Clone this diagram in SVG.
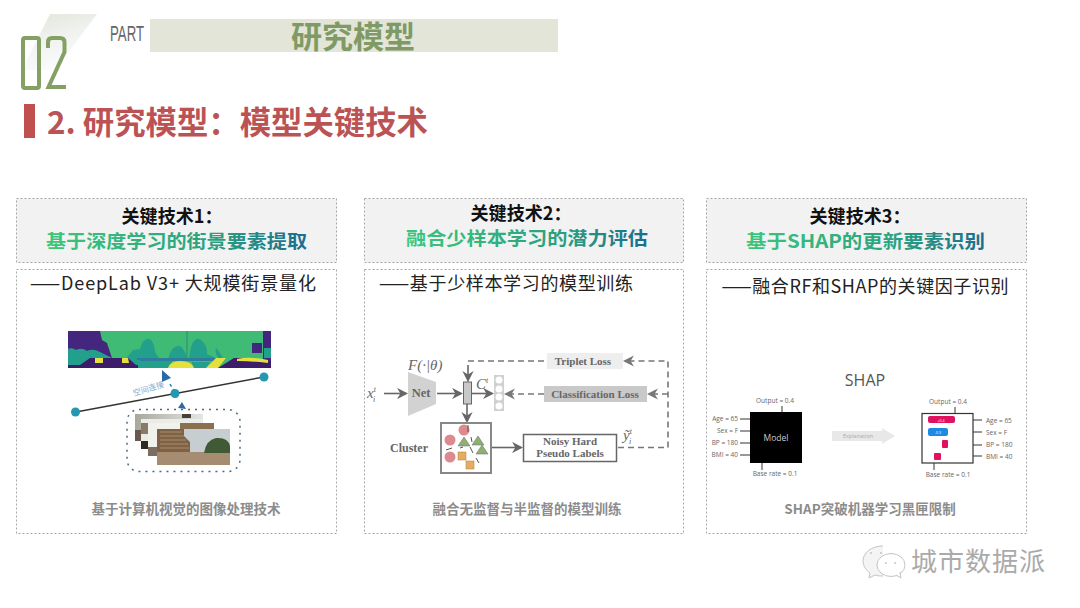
<svg xmlns="http://www.w3.org/2000/svg" width="1080" height="608" viewBox="0 0 1080 608">
<style>
text{font-family:"Noto Sans CJK SC","Liberation Sans",sans-serif}
.hd{fill:#f2f2f2;stroke:#a6a6a6;stroke-width:1;stroke-dasharray:2 2}
.bd{fill:#fff;stroke:#a6a6a6;stroke-width:1;stroke-dasharray:2 2}
.t1{font-size:18.500px;font-weight:700;fill:#111;text-anchor:middle}
.t2{font-size:18.500px;font-weight:700;text-anchor:middle}
.sub{font-size:18px;fill:#222;text-anchor:middle}
.cap{font-size:13.500px;font-weight:700;fill:#8c8c8c;text-anchor:middle}
.ln{fill:none;stroke:#666;stroke-width:1.600}
.ds{fill:none;stroke:#777;stroke-width:1.600;stroke-dasharray:6 4}
.tx{font-family:"Liberation Serif",serif;font-weight:700;font-size:11px;fill:#666;text-anchor:middle}
.it{font-family:"Liberation Serif",serif;font-style:italic;font-size:14px;fill:#666}
.sh{font-size:6.500px;fill:#666;font-family:"Open Sans","Liberation Sans",sans-serif}
.bl{stroke:#333;stroke-width:1}
.te{fill:#22a08c}
.pu{fill:#44287f}
.dp{fill:#3c1a6b}
.ye{fill:#e4e03c}
.dot{fill:#2498b0}
.tri{fill:#2a6aa8}
</style>
<defs>
<linearGradient id="g1" x1="0" x2="1" y1="0" y2="0"><stop offset="0" stop-color="#3cc67c"/><stop offset=".65" stop-color="#2a9f80"/><stop offset="1" stop-color="#1c6c90"/></linearGradient>
<linearGradient id="fade" x1="0" x2="0.4" y1="0" y2="1"><stop offset="0" stop-color="#dfe3d6"/><stop offset="1" stop-color="#eef3f3" stop-opacity=".3"/></linearGradient>
<linearGradient id="sky" x1="0" x2="1" y1="0" y2="0"><stop offset="0" stop-color="#a8a89c"/><stop offset="1" stop-color="#e4e6e4"/></linearGradient>
<filter id="soft" x="-5%" y="-5%" width="110%" height="110%"><feGaussianBlur stdDeviation=".5"/></filter>
<marker id="a" viewBox="0 0 10 10" refX="8" refY="5" markerWidth="7" markerHeight="7" orient="auto"><path d="M0 0L10 5L0 10L3 5Z" fill="#666"/></marker>
<marker id="b" viewBox="0 0 10 10" refX="8" refY="5" markerWidth="7" markerHeight="7" orient="auto"><path d="M0 0L10 5L0 10L3 5Z" fill="#777"/></marker>
</defs>

<g id="banner">
<path d="M50 14H97L55 70H22Z" fill="url(#fade)"/>
<rect x="23" y="38" width="16" height="50" rx="2" fill="none" stroke="#85a063" stroke-width="4"/>
<path d="M48 48V42Q48 38 52 38H60Q64.500 38 64.500 42V52L48.500 87H66" fill="none" stroke="#85a063" stroke-width="4"/>
<text x="110" y="41" font-size="22" fill="#666" textLength="34" lengthAdjust="spacingAndGlyphs" style="font-family:'Liberation Sans',sans-serif">PART</text>
<rect x="150" y="19" width="408" height="33" fill="#e2e5d8"/>
<text x="353" y="48" font-size="31" font-weight="700" fill="#7f9a64" text-anchor="middle">研究模型</text>
</g>

<g id="title">
<rect x="24" y="104" width="11" height="34" fill="#c0504f"/>
<text x="47" y="134" font-size="31.500" font-weight="700" fill="#bb5355" textLength="381" lengthAdjust="spacingAndGlyphs">2. 研究模型：模型关键技术</text>
</g>

<g id="panel1">
<rect class="hd" x="16.500" y="198.500" width="320" height="64"/>
<text class="t1" x="172" y="223" textLength="101" lengthAdjust="spacingAndGlyphs">关键技术1：</text>
<text class="t2" x="176.500" y="248" fill="url(#g1)" textLength="261" lengthAdjust="spacingAndGlyphs">基于深度学习的街景要素提取</text>
<rect class="bd" x="16.500" y="269.500" width="320" height="264"/>
<text class="sub" x="173" y="290" textLength="286">——DeepLab V3+ 大规模街景量化</text>
<g id="segmap" filter="url(#soft)">
<rect x="68" y="331" width="203" height="37" fill="#3fbb74"/>
<path class="pu" d="M68 331H100L102 340L107 343L112 358H68Z"/>
<path class="pu" d="M263 331H271V368H263ZM252 343H262V353H252Z"/>
<path class="te" d="M68 349Q72 347 76 350Q82 347 87 351Q93 348 100 352L112 358V361H68ZM264 348H271V358H264Z"/>
<path class="te" d="M125 360L133 350L140 349Q143 337 150 339Q155 344 155 352L160 360ZM168 360Q171 345 180 346Q186 350 187 360ZM189 360Q190 348 193 342Q198 335 203 342Q208 348 207 354L220 360Q214 353 216 348Q220 352 224 360Z"/>
<rect x="137" y="358" width="80" height="3" fill="#2d7c9b"/>
<rect x="186.500" y="331" width="1" height="28" fill="#2a8a7f"/>
<path class="te" d="M68 360H140V368H68ZM138 361H172V368H138ZM192 362H210L206 368H192Z"/>
<path class="dp" d="M68 365H138V368H68ZM90 358H128L136 365H80Z"/>
<path class="ye" d="M95 358H103V363H95ZM122 358H128L129 363H122Z"/>
<path class="ye" d="M168 368Q170 361 180 361Q192 361 194 368ZM206 368L216 358H226L218 368Z"/>
<path class="dp" d="M271 368V362L252 358L234 358L218 368Z"/>
<path class="ye" d="M237 359Q250 356 268 360V363Q250 361 237 361Z"/>
</g>
<g id="geo">
<path class="tri" d="M162 370L171 378L162 382Z"/>
<path class="tri" d="M182 402L178 408L186 409Z"/>
<line x1="76" y1="412" x2="264" y2="377" stroke="#333" stroke-width="1.500"/>
<line x1="170" y1="384" x2="178" y2="398" stroke="#2a7ab0" stroke-width="1.500" stroke-dasharray="3 3"/>
<circle class="dot" cx="75.500" cy="412" r="4.500"/>
<circle class="dot" cx="264" cy="377" r="4.500"/>
<circle class="dot" cx="175" cy="393.500" r="4.500"/>
<text font-size="8" fill="#8aa8c8" transform="translate(134 396) rotate(-17)">空间连接</text>
<rect x="127" y="409.500" width="113" height="62" rx="12" fill="none" stroke="#4d6a7a" stroke-width="1.500" stroke-dasharray="2 5"/>
<g id="photos" filter="url(#soft)">
<rect x="135" y="414" width="68" height="27" fill="url(#sky)"/>
<rect x="135" y="430" width="8" height="11" fill="#6a5a4e"/>
<rect x="182" y="414" width="9" height="4" fill="#4a4038"/>
<rect x="141" y="419" width="62" height="30" fill="#ececE6"/>
<rect x="141" y="423" width="7" height="11" fill="#8a7a68"/>
<rect x="141" y="441" width="10" height="8" fill="#2e2a24"/>
<rect x="148" y="423" width="66" height="33" fill="#f2f2ec"/>
<rect x="180" y="423" width="34" height="6" fill="#8a6f50"/>
<rect x="148" y="447" width="9" height="9" fill="#7a6e60"/>
<rect x="157" y="429" width="73" height="36" fill="#c6ced2"/>
<path d="M157 429H184V436L190 442V453H157Z" fill="#7f6244"/>
<path d="M160 432H182M160 436H184M160 440H186M160 444H188M160 448H189" stroke="#a88e6c" stroke-width="1"/>
<rect x="157" y="452" width="73" height="13" fill="#a68c70"/>
<path d="M204 453Q206 440 216 438Q228 437 230 446V453Z" fill="#3f5a35"/>
</g>
</g>
<text class="cap" x="186" y="514">基于计算机视觉的图像处理技术</text>
</g>

<g id="panel2">
<rect class="hd" x="364.500" y="198.500" width="319" height="64"/>
<text class="t1" x="521" y="219.500" textLength="101" lengthAdjust="spacingAndGlyphs">关键技术2：</text>
<text class="t2" x="527" y="244.500" fill="url(#g1)" textLength="242" lengthAdjust="spacingAndGlyphs">融合少样本学习的潜力评估</text>
<rect class="bd" x="364.500" y="269.500" width="319" height="264"/>
<text class="sub" x="506" y="290" textLength="254">——基于少样本学习的模型训练</text>
<g id="net">
<path d="M408 372L436 382V404L408 416Z" fill="#d2d2d2"/>
<text class="tx" x="421" y="397" style="font-size:12.500px">Net</text>
<text class="it" x="408" y="370" style="font-size:15px">F(·|θ)</text>
<text class="it" x="367" y="398" style="font-size:15px">x<tspan font-size="8" dy="-6">t</tspan><tspan font-size="8" dx="-3" dy="10">i</tspan></text>
<line class="ln" x1="384" y1="393.500" x2="406" y2="393.500" marker-end="url(#a)"/>
<line class="ln" x1="437" y1="393.500" x2="461" y2="393.500" marker-end="url(#a)"/>
<rect x="463.500" y="382" width="8" height="22" fill="#c8c8c8" stroke="#666" stroke-width="1"/>
<line class="ln" x1="472" y1="393.500" x2="492" y2="393.500" marker-end="url(#a)"/>
<text class="it" x="476" y="389" style="font-size:15px">C<tspan font-size="8" dy="-6">t</tspan></text>
<rect x="494" y="375" width="10" height="36" fill="#d0d0d0"/>
<circle cx="499" cy="380" r="3.500" fill="#fff"/><circle cx="499" cy="389" r="3.500" fill="#fff"/><circle cx="499" cy="397" r="3.500" fill="#fff"/><circle cx="499" cy="406" r="3.500" fill="#fff"/>
<line class="ln" x1="467" y1="404" x2="467" y2="421" marker-end="url(#a)"/>
<line class="ln" x1="468" y1="365" x2="468" y2="380" marker-end="url(#a)"/>
</g>
<g id="cluster">
<text class="tx" x="409" y="452" style="font-size:12px">Cluster</text>
<rect x="441" y="423" width="50" height="50" fill="#fff" stroke="#888" stroke-width="2"/>
<circle cx="464" cy="430" r="5.500" fill="#dc8a8f"/><circle cx="450" cy="440" r="5.500" fill="#dc8a8f"/><circle cx="450" cy="457" r="5.500" fill="#dc8a8f"/>
<path d="M464 437L470 446H458ZM478 436L484 445H472ZM482 445L488 454H476Z" fill="#8fb06f" stroke="#667" stroke-width=".5"/>
<rect x="458" y="452" width="8" height="8" fill="#e6ad62" stroke="#a8803f" stroke-width=".5"/>
<rect x="466" y="461" width="8" height="8" fill="#e6ad62" stroke="#a8803f" stroke-width=".5"/>
<path d="M471 437L472 442M446 450L452 448M460 448L463 447M470 447L473 453M476 458L479 463M468 425V432" stroke="#555" stroke-width="1" fill="none"/>
</g>
<g id="labels">
<line class="ln" x1="492" y1="447.500" x2="521" y2="447.500" marker-end="url(#a)"/>
<rect x="523.500" y="434.500" width="93" height="27" fill="#fff" stroke="#666" stroke-width="1.500"/>
<text class="tx" x="570" y="445">Noisy Hard</text>
<text class="tx" x="570" y="457">Pseudo Labels</text>
<text class="it" x="623" y="440" style="font-size:15px">ỹ<tspan font-size="8" dy="-6">t</tspan><tspan font-size="8" dx="-3" dy="10">i</tspan></text>
</g>
<g id="loss">
<rect x="547" y="353" width="76" height="16" fill="#eeeeee"/>
<text class="tx" x="583" y="365">Triplet Loss</text>
<rect x="544" y="386" width="103" height="16" fill="#c9c9c9"/>
<text class="tx" x="595" y="398">Classification Loss</text>
<path class="ds" d="M468 361H547"/>
<path class="ds" d="M618 447.500H668V361H625" marker-end="url(#b)"/>
<path class="ds" d="M668 394H649" marker-end="url(#b)"/>
<path class="ds" d="M544 394H506" marker-end="url(#b)"/>
</g>
<text class="cap" x="527" y="514">融合无监督与半监督的模型训练</text>
</g>

<g id="panel3">
<rect class="hd" x="706.500" y="198.500" width="320" height="64"/>
<text class="t1" x="860" y="223" textLength="101" lengthAdjust="spacingAndGlyphs">关键技术3：</text>
<text class="t2" x="865.500" y="248" fill="url(#g1)" textLength="239" lengthAdjust="spacingAndGlyphs">基于SHAP的更新要素识别</text>
<rect class="bd" x="706.500" y="269.500" width="320" height="264"/>
<text class="sub" x="865" y="293" textLength="287">——融合RF和SHAP的关键因子识别</text>
<text x="865" y="386" font-size="16" fill="#555" text-anchor="middle" style="font-family:'Open Sans',sans-serif">SHAP</text>
<g id="model">
<rect x="750" y="412" width="52" height="51" fill="#000"/>
<text x="776" y="441" font-size="8.500" fill="#ccc" text-anchor="middle" style="font-family:'Open Sans',sans-serif">Model</text>
<path class="bl" d="M740 419H750M740 431H750M740 443H750M740 455H750M782 406V412M762 463V470"/>
<text class="sh" x="775" y="403" text-anchor="middle">Output = 0.4</text>
<text class="sh" x="738" y="421" text-anchor="end">Age = 65</text>
<text class="sh" x="738" y="433" text-anchor="end">Sex = F</text>
<text class="sh" x="738" y="445" text-anchor="end">BP = 180</text>
<text class="sh" x="738" y="457" text-anchor="end">BMI = 40</text>
<text class="sh" x="775" y="476" text-anchor="middle">Base rate = 0.1</text>
</g>
<path d="M832 431H882V428L895 436L882 444V441H832Z" fill="#e8e8e8"/>
<text x="858" y="438" font-size="5.500" fill="#aaa" text-anchor="middle" style="font-family:'Open Sans',sans-serif">Explanation</text>
<g id="explained">
<rect x="922" y="413.500" width="51" height="49.500" fill="#fff" stroke="#333" stroke-width="1.200"/>
<rect x="928" y="416" width="27" height="7" rx="2" fill="#e0125f"/>
<text x="941" y="422" font-size="3.500" fill="#fff" text-anchor="middle" style="font-family:'Open Sans',sans-serif">+0.4</text>
<rect x="928" y="428" width="20" height="8" rx="2" fill="#1e88e5"/>
<text x="938" y="434" font-size="3.500" fill="#fff" text-anchor="middle" style="font-family:'Open Sans',sans-serif">-0.3</text>
<rect x="942" y="440" width="6" height="8" rx="1" fill="#e0125f"/>
<rect x="934" y="453" width="7" height="7" rx="1" fill="#e0125f"/>
<path class="bl" d="M973 420H982M973 432H982M973 445H982M973 456H982M955 407V413M934 463V470"/>
<text class="sh" x="948" y="404" text-anchor="middle">Output = 0.4</text>
<text class="sh" x="986" y="423">Age = 65</text>
<text class="sh" x="986" y="435">Sex = F</text>
<text class="sh" x="986" y="447">BP = 180</text>
<text class="sh" x="986" y="459">BMI = 40</text>
<text class="sh" x="948" y="477" text-anchor="middle">Base rate = 0.1</text>
</g>
<text class="cap" x="870" y="514">SHAP突破机器学习黑匣限制</text>
</g>

<g id="watermark">
<path d="M883 546C871 546 863 553 863 561C863 566 866 570 870 573L869 578L875 575C878 576 880 576 883 576" fill="#f4f4f4" stroke="#c4c4c4" stroke-width="1"/>
<ellipse cx="891" cy="565" rx="14" ry="11.500" fill="#fff" stroke="#c4c4c4" stroke-width="1"/>
<path d="M896 575L901 578L900 572" fill="#fff" stroke="#c4c4c4" stroke-width="1"/>
<circle cx="886" cy="563" r="1" fill="#c4c4c4"/><circle cx="895" cy="563" r="1" fill="#c4c4c4"/>
<circle cx="871" cy="553" r="1" fill="#c4c4c4"/><circle cx="881" cy="553" r="1" fill="#c4c4c4"/>
<text x="911" y="571" font-size="26" fill="#aaa" textLength="134">城市数据派</text>
</g>
</svg>
